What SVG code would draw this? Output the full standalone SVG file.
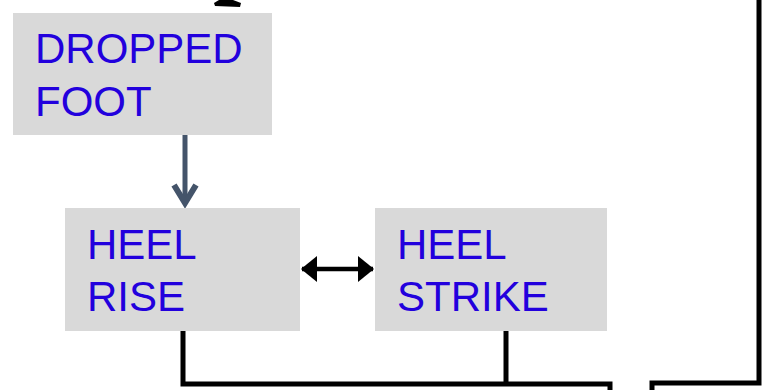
<svg xmlns="http://www.w3.org/2000/svg" width="768" height="390" viewBox="0 0 768 390">
<style>
.box{fill:#d9d9d9}
.lbl{font-family:"Liberation Sans",Arial,sans-serif;font-size:42px;fill:#2200dd}
.ln{fill:none;stroke:#000;stroke-width:5;stroke-linejoin:miter}
</style>
<defs>
<marker id="ah" viewBox="0 0 16 26" refX="15" refY="13" markerWidth="16" markerHeight="26" markerUnits="userSpaceOnUse" orient="auto-start-reverse">
<path d="M0,0 L16,13 L0,26 Z" fill="#000"/>
</marker>
</defs>
<rect width="768" height="390" fill="#fff"/>
<g id="connectors">
<polygon points="214,3 219,0 233,0 241,3 240,7 215,6" fill="#000"/>
<line x1="185" y1="135" x2="185" y2="200" stroke="#44546a" stroke-width="5"/>
<polyline points="174,185 185,203 196,185" fill="none" stroke="#44546a" stroke-width="6"/>
<line x1="302" y1="269" x2="373" y2="269" stroke="#000" stroke-width="4.5" marker-start="url(#ah)" marker-end="url(#ah)"/>
<polyline class="ln" points="183,331 183,384 610,384 610,392"/>
<line class="ln" x1="506" y1="331" x2="506" y2="384"/>
<polyline class="ln" points="652,392 652,383 759,383 759,-2"/>
</g>
<g id="dropped-foot">
<rect class="box" x="13" y="13" width="259" height="122"/>
<text class="lbl" x="35" y="63">DROPPED</text>
<text class="lbl" x="35" y="116">FOOT</text>
</g>
<g id="heel-rise">
<rect class="box" x="65" y="208" width="235" height="123"/>
<text class="lbl" x="87" y="259">HEEL</text>
<text class="lbl" x="87" y="311">RISE</text>
</g>
<g id="heel-strike">
<rect class="box" x="375" y="208" width="232" height="123"/>
<text class="lbl" x="397" y="259">HEEL</text>
<text class="lbl" x="397" y="311">STRIKE</text>
</g>
</svg>
